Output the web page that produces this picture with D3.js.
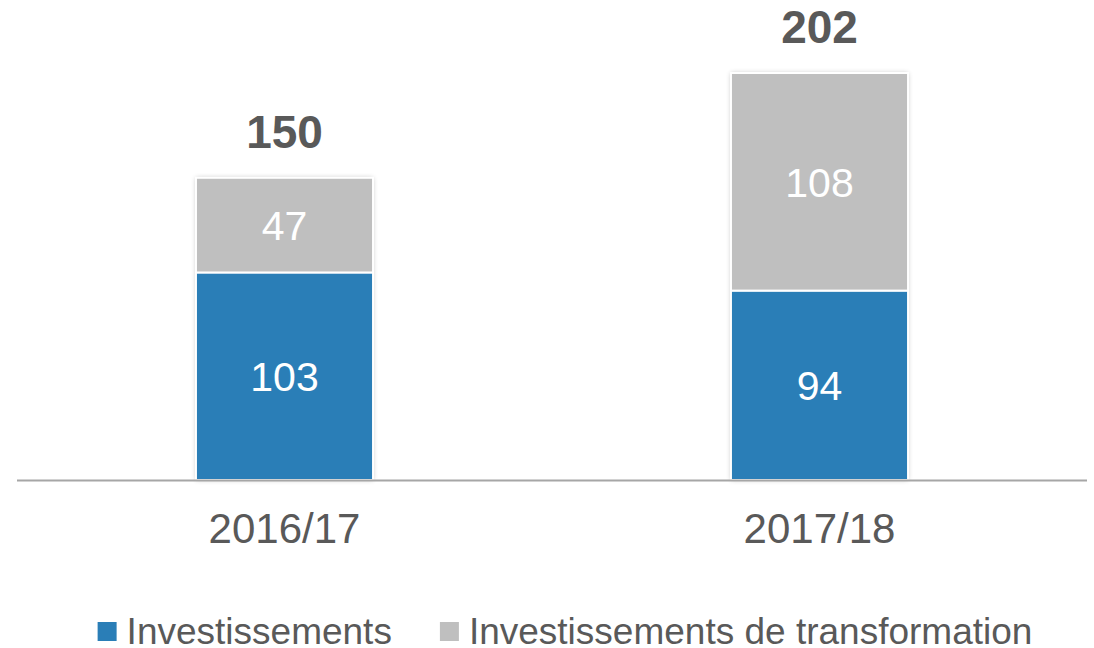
<!DOCTYPE html>
<html>
<head>
<meta charset="utf-8">
<script src="https://cdn.jsdelivr.net/npm/d3@7"></script>
<style>
	html, body { margin: 0; padding: 0; background: #fff; }
	svg { display: block; font-family: "Liberation Sans", Arial, sans-serif; }
</style>
</head>
<body>
<svg id="chart" width="1094" height="648"></svg>
<script>
// data
const categories = ["2016/17", "2017/18"];
const investissements = [103, 94];
const transformation = [47, 108];
const seriesNames = ["Investissements", "Investissements de transformation"];
const seriesColors = ["#2a7eb7", "#bfbfbf"];

const W = 1094, H = 648;
const margin = {top: 73, right: 7, bottom: 168, left: 17};

const svg = d3.select("#chart");

// soft shadow round the bars
const defs = svg.append("defs");
const f = defs.append("filter").attr("id", "shadow")
	.attr("x", "-10%").attr("y", "-10%").attr("width", "120%").attr("height", "120%");
f.append("feGaussianBlur").attr("in", "SourceAlpha").attr("stdDeviation", 2.5);
f.append("feOffset").attr("dx", 0).attr("dy", 0).attr("result", "blur");
f.append("feComponentTransfer").append("feFuncA").attr("type", "linear").attr("slope", 0.25);
const merge = f.append("feMerge");
merge.append("feMergeNode");
merge.append("feMergeNode").attr("in", "SourceGraphic");

const rows = categories.map((c, i) => ({
	cat: c,
	Investissements: investissements[i],
	"Investissements de transformation": transformation[i],
	total: investissements[i] + transformation[i]
}));

const stack = d3.stack().keys(seriesNames)(rows);

const x = d3.scaleBand()
	.domain(categories)
	.range([margin.left, W - margin.right])
	.paddingInner(0.669)
	.paddingOuter(0.669 / 2);

const y = d3.scaleLinear()
	.domain([0, d3.max(rows, d => d.total)])
	.range([H - margin.bottom, margin.top]);

const color = d3.scaleOrdinal().domain(seriesNames).range(seriesColors);

// bars
const barG = svg.append("g");
categories.forEach((c, i) => {
	barG.append("rect")
		.attr("x", x(c)).attr("width", x.bandwidth())
		.attr("y", y(rows[i].total)).attr("height", y(0) - y(rows[i].total))
		.attr("fill", "#fff")
		.attr("filter", "url(#shadow)");
});

stack.forEach(layer => {
	barG.selectAll(null)
		.data(layer)
		.join("rect")
		.attr("x", d => x(d.data.cat))
		.attr("width", x.bandwidth())
		.attr("y", d => y(d[1]))
		.attr("height", d => y(d[0]) - y(d[1]))
		.attr("fill", color(layer.key))
		.attr("stroke", "#fff")
		.attr("stroke-width", 2);
});

// axis line
svg.append("line")
	.attr("x1", margin.left).attr("x2", W - margin.right)
	.attr("y1", y(0) + 0.5).attr("y2", y(0) + 0.5)
	.attr("stroke", "#a6a6a6").attr("stroke-width", 2);

// segment labels
stack.forEach(layer => {
	svg.selectAll(null)
		.data(layer)
		.join("text")
		.attr("x", d => x(d.data.cat) + x.bandwidth() / 2)
		.attr("y", d => (y(d[0]) + y(d[1])) / 2)
		.attr("dy", "0.36em")
		.attr("text-anchor", "middle")
		.attr("font-size", 41)
		.attr("fill", "#fff")
		.text(d => d[1] - d[0]);
});

// totals
svg.selectAll(null)
	.data(rows)
	.join("text")
	.attr("x", d => x(d.cat) + x.bandwidth() / 2)
	.attr("y", d => y(d.total) - 30)
	.attr("text-anchor", "middle")
	.attr("font-size", 46)
	.attr("font-weight", "bold")
	.attr("fill", "#595959")
	.text(d => d.total);

// category labels
svg.selectAll(null)
	.data(categories)
	.join("text")
	.attr("x", d => x(d) + x.bandwidth() / 2)
	.attr("y", 543)
	.attr("text-anchor", "middle")
	.attr("font-size", 42)
	.attr("fill", "#595959")
	.text(d => d);

// legend
const legend = svg.append("g");
let lx = 0;
seriesNames.forEach((s, i) => {
	const g = legend.append("g").attr("transform", `translate(${lx},0)`);
	g.append("rect")
		.attr("x", 0).attr("y", -22)
		.attr("width", 19).attr("height", 19)
		.attr("fill", color(s));
	const t = g.append("text")
		.attr("x", 29).attr("y", 0)
		.attr("font-size", 37)
		.attr("fill", "#595959")
		.text(s);
	lx += 29 + t.node().getComputedTextLength() + 48;
});
const lw = lx - 48;
legend.attr("transform", `translate(${565 - lw / 2},644)`);
</script>
</body>
</html>
